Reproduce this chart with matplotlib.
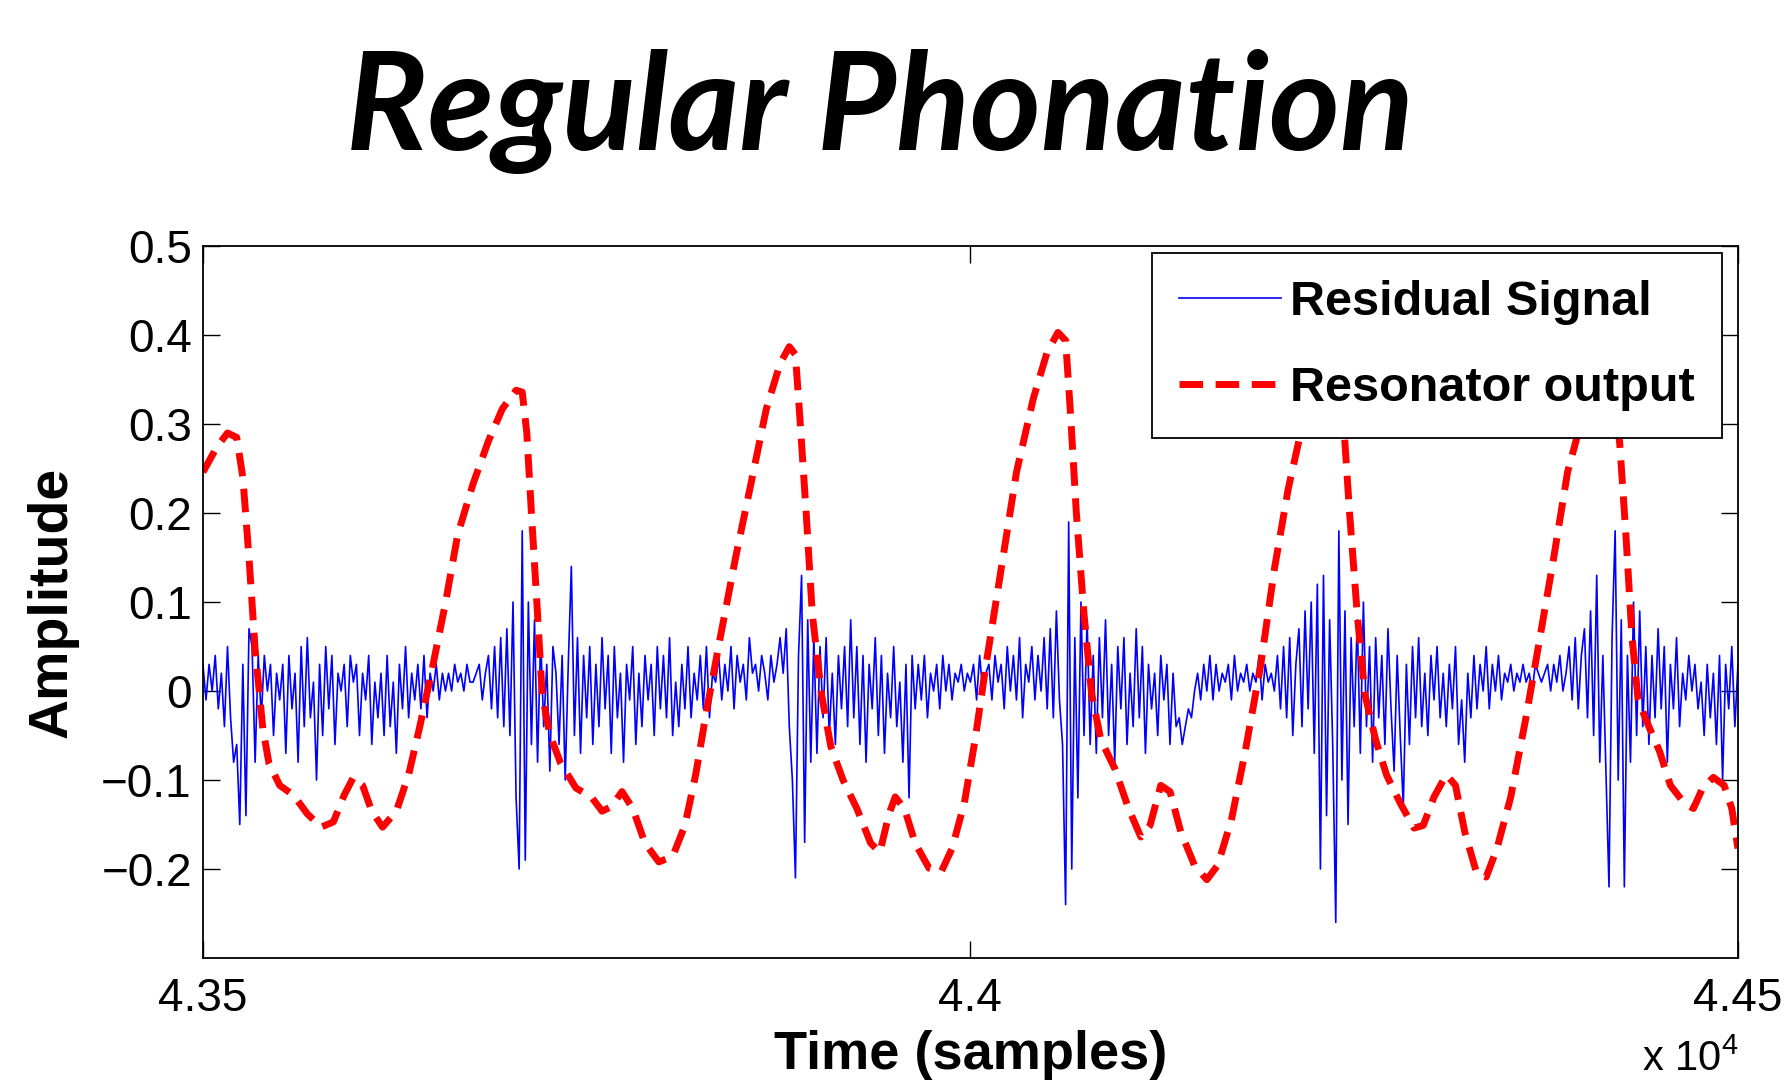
import numpy as np
import matplotlib
matplotlib.use("Agg")
import matplotlib.pyplot as plt

plt.rcParams['font.family'] = ['Liberation Sans', 'DejaVu Sans']

# resonator output (sample, amplitude)
res_x = [43500, 43509, 43516, 43522, 43526, 43530, 43534, 43539, 43543, 43550,
         43559, 43568, 43577, 43585, 43592, 43598, 43604, 43610, 43617, 43626,
         43634, 43641, 43649, 43658, 43666, 43676, 43686, 43695, 43704, 43708,
         43711, 43714, 43718, 43721, 43726, 43733, 43743, 43753, 43760, 43766,
         43773, 43780, 43788, 43797, 43806, 43814, 43821, 43828, 43837, 43847,
         43857, 43867, 43876, 43882, 43886, 43889, 43893, 43897, 43903, 43909,
         43917, 43926, 43935, 43941, 43947, 43951, 43957, 43964, 43973, 43981,
         43988, 43996, 44003, 44010, 44020, 44030, 44041, 44050, 44057, 44062,
         44065, 44069, 44074, 44079, 44085, 44094, 44103, 44111, 44117, 44124,
         44130, 44137, 44146, 44154, 44161, 44170, 44179, 44189, 44198, 44207,
         44216, 44226, 44233, 44239, 44243, 44247, 44252, 44257, 44264, 44271,
         44280, 44289, 44295, 44302, 44310, 44316, 44322, 44330, 44336, 44343,
         44352, 44362, 44371, 44380, 44389, 44397, 44406, 44413, 44418, 44423,
         44427, 44431, 44435, 44441, 44449, 44456, 44465, 44471, 44477, 44484,
         44491, 44496, 44500]
res_y = [0.246, 0.274, 0.29, 0.285, 0.24, 0.15, 0.047, -0.042, -0.081, -0.106,
         -0.117, -0.138, -0.153, -0.147, -0.117, -0.097, -0.106, -0.135, -0.153, -0.135,
         -0.094, -0.042, 0.022, 0.099, 0.176, 0.233, 0.281, 0.317, 0.338, 0.336,
         0.29, 0.2, 0.086, -0.004, -0.049, -0.081, -0.109, -0.119, -0.135, -0.13,
         -0.113, -0.132, -0.171, -0.192, -0.186, -0.151, -0.094, -0.023, 0.06, 0.15,
         0.233, 0.317, 0.368, 0.387, 0.378, 0.304, 0.2, 0.086, -0.004, -0.062,
         -0.1, -0.132, -0.171, -0.181, -0.138, -0.119, -0.132, -0.171, -0.199, -0.203,
         -0.177, -0.126, -0.055, 0.028, 0.137, 0.246, 0.329, 0.381, 0.403, 0.394,
         0.317, 0.2, 0.086, -0.004, -0.055, -0.087, -0.132, -0.164, -0.151, -0.106,
         -0.113, -0.158, -0.196, -0.212, -0.196, -0.145, -0.068, 0.028, 0.137, 0.227,
         0.297, 0.368, 0.406, 0.394, 0.304, 0.2, 0.086, -0.004, -0.055, -0.094,
         -0.126, -0.154, -0.151, -0.119, -0.094, -0.106, -0.158, -0.206, -0.209, -0.177,
         -0.119, -0.029, 0.06, 0.15, 0.246, 0.297, 0.355, 0.38, 0.36, 0.278,
         0.176, 0.06, -0.01, -0.036, -0.068, -0.106, -0.126, -0.132, -0.109, -0.097,
         -0.106, -0.132, -0.177]

# residual signal, every 2nd sample from 43500, in hundredths
resid_centi = [
    3, -1, 3, 0, 4, -2, 2, -4, 5, -3,
    -8, -6, -15, 3, -14, 7, 5, -8, 4, -3,
    4, 0, 3, -5, 2, -1, 3, -7, 4, -2,
    2, -8, 5, -4, 6, -3, 1, -10, 3, -5,
    5, -2, 4, -6, 2, 0, 3, -4, 4, 1,
    3, -5, 2, -1, 4, -6, 1, -3, 2, -5,
    4, -4, 1, -7, 3, -2, 5, -3, 2, -1,
    3, -2, 4, -3, 2, 0, 3, -1, 2, 0,
    2, 0, 3, 1, 2, 0, 3, 1, 1, 2,
    3, -1, 2, 4, -2, 5, -3, 6, -4, 7,
    -5, 10, -12, -20, 18, -19, 10, -6, 8, -8,
    6, -4, 3, -9, 5, 2, -6, 4, -10, 3,
    14, -5, 6, -7, 4, -3, 5, -6, 3, -4,
    6, -2, 4, -7, 5, -3, 2, -8, 3, -1,
    5, -6, 2, -4, 4, -1, 3, -5, 5, -2,
    4, -3, 6, -5, 1, -4, 3, -2, 5, -3,
    2, -1, 4, -2, 5, -3, 2, 1, 4, -1,
    3, 0, 5, -2, 4, 1, 3, -1, 6, 2,
    3, 0, 4, 2, -1, 4, 1, 3, 6, 2,
    7, -4, -10, -21, 4, 13, -17, 8, -8, 6,
    -7, 5, -3, 6, -5, 2, -6, 4, -2, 5,
    -4, 8, -3, 5, -6, 4, -8, 3, -2, 6,
    -5, 4, -7, 2, -3, 5, -4, 1, -8, 3,
    -12, 4, -2, 3, -1, 4, -3, 2, 0, 3,
    -2, 4, 0, 3, -1, 2, 1, 3, 0, 2,
    1, 3, -1, 4, 0, 2, 3, -1, 4, 1,
    3, -2, 5, 0, 4, -1, 6, -3, 3, 1,
    5, -1, 4, 0, 6, -2, 7, -3, 9, -1,
    -6, -24, 19, -20, 6, -12, 10, -5, 8, -6,
    4, -7, 6, -3, 8, -5, 3, -8, 5, -2,
    6, -6, 2, -4, 7, -3, 5, -7, 3, -2,
    2, -5, 4, -1, 3, -6, 2, -4, -3, -6,
    -4, -2, -3, 0, 2, -1, 3, 0, 4, -1,
    3, 0, 2, 1, 3, -1, 4, 0, 2, 1,
    3, 0, 2, 1, 4, -1, 3, 1, 2, 0,
    4, -2, 5, -3, 6, -5, 3, 7, -4, 9,
    -2, 10, -7, 12, -20, 13, -14, 8, -6, -26,
    18, -10, 9, -15, 6, -4, 8, -7, 10, -4,
    5, -8, 6, -3, 4, -6, 7, -2, -9, 4,
    -5, -13, 3, -6, 5, -3, 6, -4, 2, -5,
    4, -1, 5, -3, 2, -4, 3, -2, 5, -6,
    -1, -8, 2, -3, 4, -2, 3, 0, 5, -2,
    3, 0, 4, -1, 2, 1, 3, 0, 2, 1,
    3, 1, 2, 0, 3, 2, 1, 2, 3, 0,
    3, 1, 4, 0, 2, 5, -1, 6, -2, 4,
    7, -3, 9, -5, 13, -8, 4, -9, -22, 6,
    18, -10, 8, -22, 4, -8, 10, -5, 9, -4,
    5, -6, 4, -3, 7, -2, 5, -8, 3, -2,
    6, -4, 2, -1, 4, 0, 3, -2, 1, -5,
    3, -3, 2, -6, 4, -10, 3, -2, 5, -4,
    3,
]
resid_y = np.array(resid_centi) / 100.0
resid_x = np.arange(43500, 43500 + 2 * len(resid_y), 2)

xticks = [43500, 44000, 44500]
xlabels = ['4.35', '4.4', '4.45']
yticks = [-0.2, -0.1, 0, 0.1, 0.2, 0.3, 0.4, 0.5]
ylabels = ['\u22120.2', '\u22120.1', '0', '0.1', '0.2', '0.3', '0.4', '0.5']

fig = plt.figure(figsize=(17.88, 10.89), dpi=100)
ax = fig.add_axes([0.1135, 0.1203, 0.8585, 0.6537])

ax.plot(resid_x, resid_y, color='#0000ff', lw=1.2, label='Residual Signal')
ax.plot(res_x, res_y, color='#ff0000', lw=5, dashes=(3.4, 1.8),
        label='Resonator output')

ax.set_xlim(43500, 44500)
ax.set_ylim(-0.3, 0.5)
ax.set_xticks(xticks)
ax.set_xticklabels(xlabels)
ax.set_yticks(yticks)
ax.set_yticklabels(ylabels)
ax.tick_params(direction='in', length=12, width=1.0, labelsize=33,
               top=True, right=True)
ax.tick_params(axis='y', pad=8)
ax.tick_params(axis='x', pad=14)
for s in ax.spines.values():
    s.set_linewidth(1.3)

ax.set_xlabel('Time (samples)', fontsize=39, fontweight='bold', labelpad=6)
ax.set_ylabel('Amplitude', fontsize=40, fontweight='bold', labelpad=16)

leg = ax.legend(loc='upper right', bbox_to_anchor=(0.9896, 0.99),
                borderaxespad=0, fancybox=False, framealpha=1,
                edgecolor='black', handlelength=2.1, handletextpad=0.2,
                labelspacing=0.85, borderpad=0.55,
                prop={'size': 35, 'weight': 'bold'})
leg.get_frame().set_linewidth(1.3)

fig.text(0.972, 0.008, 'x 10$\\mathregular{^4}$', ha='right', va='bottom',
         fontsize=30)

fig.text(0.492, 0.898, 'Regular Phonation', ha='center', va='center',
         fontsize=98, fontweight='bold', fontstyle='italic',
         family=['Lato', 'DejaVu Sans'])

fig.savefig('out.png', dpi=100)
